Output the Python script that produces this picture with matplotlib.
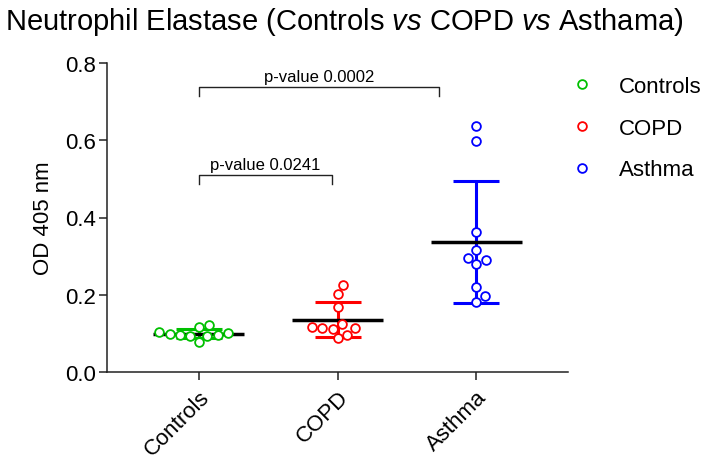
import numpy as np
import matplotlib
matplotlib.use('Agg')
import matplotlib.pyplot as plt
from matplotlib.lines import Line2D

plt.rcParams['font.family'] = 'Liberation Sans'
plt.rcParams['mathtext.fontset'] = 'custom'
plt.rcParams['mathtext.rm'] = 'Liberation Sans'
plt.rcParams['mathtext.it'] = 'Liberation Sans:italic'

groups = ['Controls', 'COPD', 'Asthma']
colors = ['#00C000', '#FF0000', '#0000FF']
controls = [0.101, 0.096, 0.094, 0.122, 0.077, 0.116, 0.092, 0.096, 0.098, 0.104]
copd = [0.225, 0.202, 0.167, 0.124, 0.113, 0.111, 0.114, 0.117, 0.097, 0.087]
asthma = [0.637, 0.597, 0.363, 0.316, 0.295, 0.291, 0.279, 0.219, 0.196, 0.182]
pvals = ['p-value 0.0241', 'p-value 0.0002']

data = [controls, copd, asthma]

fig = plt.figure(figsize=(7.09, 4.60), dpi=100)
ax = fig.add_axes([107/709, 87/460, 461/709, 309/460])
ax.set_xlim(-0.66, 2.66)
ax.set_ylim(0, 0.8)

def swarm(vals, center, d=10.5):
    # simple beeswarm in pixel space
    ys = ax.transData.transform([(center, v) for v in vals])[:, 1]
    x0 = ax.transData.transform((center, 0))[0]
    xs = np.zeros(len(vals))
    placed = []
    for i in np.argsort(ys):
        cands = [0.0]
        for px, py in placed:
            dy = ys[i] - py
            if abs(dy) < d:
                dx = np.sqrt(d**2 - dy**2)
                cands += [px + dx, px - dx]
        cands.sort(key=abs)
        for c in cands:
            if all((c - px)**2 + (ys[i] - py)**2 >= d**2 - 1e-6 for px, py in placed):
                xs[i] = c
                placed.append((c, ys[i]))
                break
    pts = ax.transData.inverted().transform(np.column_stack([xs + x0, ys]))
    return pts[:, 0]

for i, (vals, col) in enumerate(zip(data, colors)):
    m = np.mean(vals)
    sd = np.std(vals, ddof=1)
    ax.errorbar(i, m, yerr=sd, fmt='none', ecolor=col, elinewidth=2.2,
                capsize=16.5, capthick=2.2, zorder=2)
    ax.hlines(m, i - 0.33, i + 0.33, color='black', lw=2.5, zorder=3)
    xs = swarm(vals, i)
    ax.plot(xs, vals, 'o', ms=6.3, mfc='white', mec=col, mew=1.3, zorder=4)

# significance brackets
def bracket(x1, x2, y, txt):
    h = 0.023
    ax.plot([x1, x1, x2, x2], [y - h, y, y, y - h], color='#222222', lw=1.0)
    ax.text((x1 + x2) / 2, y + 0.008, txt, ha='center', va='bottom', fontsize=12)

bracket(0, 0.96, 0.51, pvals[0])
bracket(0, 1.73, 0.737, pvals[1])

ax.set_xticks(range(3))
ax.set_xticklabels(groups, rotation=45, ha='right', rotation_mode='anchor', fontsize=16)
ax.set_yticks([0.0, 0.2, 0.4, 0.6, 0.8])
ax.set_yticklabels(['0.0', '0.2', '0.4', '0.6', '0.8'], fontsize=16)
ax.tick_params(axis='both', width=1.1, length=6, color='#222222')
ax.tick_params(axis='y', pad=2)
ax.tick_params(axis='x', pad=4)
ax.set_ylabel('OD 405 nm', fontsize=16, labelpad=8)
ax.spines['right'].set_visible(False)
ax.spines['top'].set_visible(False)
for s in ['left', 'bottom']:
    ax.spines[s].set_linewidth(1.1)
    ax.spines[s].set_color('#222222')

handles = [Line2D([], [], ls='none', marker='o', ms=6.3, mfc='white', mec=c, mew=1.3)
           for c in colors]
fig.legend(handles, groups, loc='upper left', bbox_to_anchor=(571/709, 1 - 77/460),
           frameon=False, fontsize=16, handlelength=1.0, handletextpad=1.15,
           labelspacing=0.93, borderpad=0, borderaxespad=0)

fig.text(5/709, 1 - 30/460,
         r'Neutrophil Elastase (Controls $\mathit{vs}$ COPD $\mathit{vs}$ Asthama)',
         ha='left', va='baseline', fontsize=21)

fig.savefig('out.png', dpi=100)
